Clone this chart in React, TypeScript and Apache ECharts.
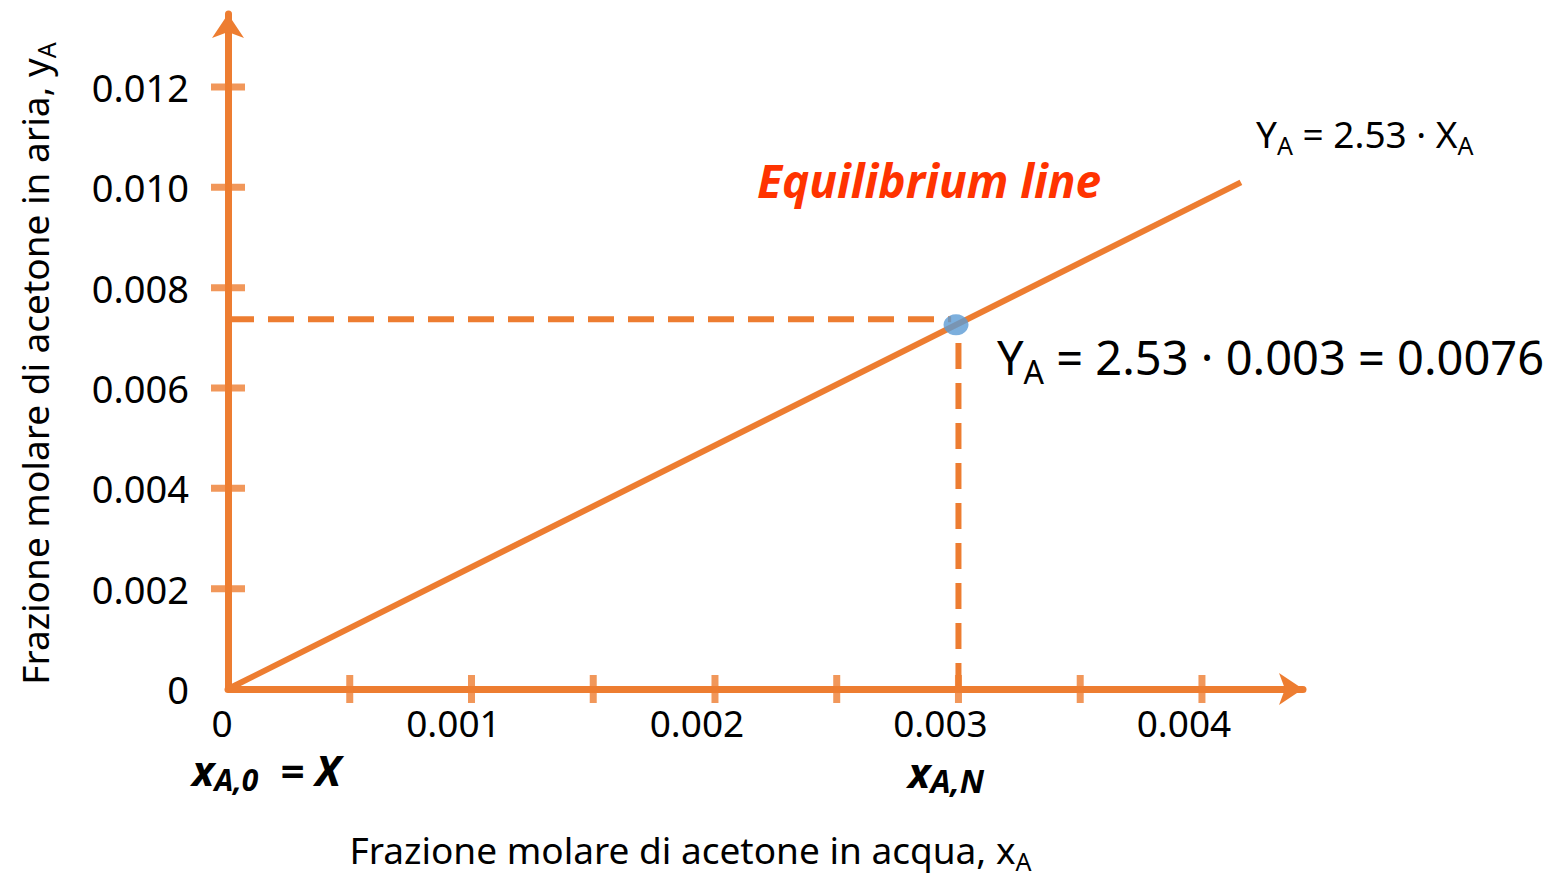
import React, { useEffect, useRef } from "react";
import * as echarts from "echarts";

const ORANGE = "#ED7D31";
const BLUE = "#5B9BD5";
const RED = "#FF3300";
const FONT = "Noto Sans";

// Axis extents (arrow ends) and label steps
const X_MAX = 0.004415;
const Y_MAX = 0.013455;
const X_LABEL_STEP = 0.001;
const Y_LABEL_STEP = 0.002;

// Tick marks crossing the axes
const xTickValues = [0.0005, 0.001, 0.0015, 0.002, 0.0025, 0.003, 0.0035, 0.004];
const yTickValues = [0.002, 0.004, 0.006, 0.008, 0.01, 0.012];

// Equilibrium line Y = 2.53 X (as drawn)
const eqLineX = [0, 0.00416];
const eqLineY = [0, 0.0101];

// Operating point
const pointX = 0.00299;
const pointY = 0.00726;

// Dashed guides
const hDashX = [0, 0.00297];
const hDashY = [0.00737, 0.00737];
const vDashX = [0.003, 0.003];
const vDashY = [0, 0.0071];

export default function App() {
  const ref = useRef<HTMLDivElement>(null);

  useEffect(() => {
    document.body.style.margin = "0";
    if (!ref.current) return;
    const chart = echarts.init(ref.current, undefined, { renderer: "svg" });

    const sub = (size: number, lh: number) => ({
      fontSize: size,
      fontFamily: FONT,
      color: "#000",
      lineHeight: lh,
      verticalAlign: "bottom" as const,
    });

    const option: any = {
      animation: false,
      backgroundColor: "#fff",
      grid: { left: 228, right: 246, top: 14, bottom: 191, containLabel: false },
      xAxis: {
        type: "value",
        min: 0,
        max: X_MAX,
        interval: X_LABEL_STEP,
        splitLine: { show: false },
        axisTick: { show: false },
        axisLine: {
          show: true,
          onZero: false,
          symbol: ["none", "arrow"],
          symbolSize: [24, 24],
          lineStyle: { color: ORANGE, width: 7 },
        },
        axisLabel: {
          showMaxLabel: false,
          margin: 14,
          formatter: (v: number) => (v === 0 ? "{z|0}" : "{l|" + v.toFixed(3) + "}"),
          rich: {
            z: { fontSize: 37, fontFamily: FONT, color: "#000", lineHeight: 38, padding: [0, 12, 0, 0] },
            l: { fontSize: 37, fontFamily: FONT, color: "#000", lineHeight: 38, padding: [0, 36, 0, 0] },
          },
        },
        name: "{a|Frazione molare di acetone in acqua, x}{s|A}",
        nameLocation: "middle",
        nameGap: 136,
        nameTextStyle: {
          padding: [0, 150, 0, 0],
          rich: {
            a: { fontSize: 37, fontFamily: FONT, color: "#000", lineHeight: 48 },
            s: sub(25, 26),
          },
        },
      },
      yAxis: {
        type: "value",
        min: 0,
        max: Y_MAX,
        interval: Y_LABEL_STEP,
        splitLine: { show: false },
        axisTick: { show: false },
        axisLine: {
          show: true,
          onZero: false,
          symbol: ["none", "arrow"],
          symbolSize: [24, 24],
          lineStyle: { color: ORANGE, width: 7 },
        },
        axisLabel: {
          showMaxLabel: false,
          margin: 39,
          fontSize: 38,
          fontFamily: FONT,
          color: "#000",
          formatter: (v: number) => (v === 0 ? "0" : v.toFixed(3)),
        },
        name: "{a|Frazione molare di acetone in aria, y}{s|A}",
        nameLocation: "middle",
        nameGap: 170,
        nameRotate: 90,
        nameTextStyle: {
          padding: [0, 24, 0, 0],
          rich: {
            a: { fontSize: 37, fontFamily: FONT, color: "#000", lineHeight: 48 },
            s: sub(25, 26),
          },
        },
      },
      series: [
        {
          type: "line",
          data: hDashX.map((x, i) => [x, hDashY[i]]),
          symbol: "none",
          lineStyle: { color: ORANGE, width: 6, type: [26, 14] },
          z: 2,
        },
        {
          type: "line",
          data: vDashX.map((x, i) => [x, vDashY[i]]),
          symbol: "none",
          lineStyle: { color: ORANGE, width: 6, type: [26, 14] },
          z: 2,
        },
        {
          type: "line",
          data: eqLineX.map((x, i) => [x, eqLineY[i]]),
          symbol: "none",
          lineStyle: { color: ORANGE, width: 6 },
          z: 3,
        },
        {
          type: "scatter",
          data: xTickValues.map((v) => [v, 0]),
          symbol: "rect",
          symbolSize: [7, 28],
          itemStyle: { color: ORANGE },
          z: 4,
        },
        {
          type: "scatter",
          data: yTickValues.map((v) => [0, v]),
          symbol: "rect",
          symbolSize: [34, 7],
          itemStyle: { color: ORANGE },
          z: 4,
        },
        {
          type: "scatter",
          data: [[pointX, pointY]],
          symbol: "circle",
          symbolSize: [25, 21],
          itemStyle: { color: BLUE },
          z: 5,
        },
      ],
      graphic: [
        {
          type: "text",
          left: 757,
          top: 157,
          style: {
            text: "Equilibrium line",
            fontSize: 46,
            fontWeight: "bold",
            fontStyle: "italic",
            fontFamily: FONT,
            fill: RED,
          },
        },
        {
          type: "text",
          left: 1256,
          top: 115,
          style: {
            text: "{a|Y}{s|A}{a| = 2.53 · X}{s|A}",
            rich: {
              a: { fontSize: 37, fontFamily: FONT, fill: "#000", lineHeight: 48 },
              s: { fontSize: 25, fontFamily: FONT, fill: "#000", lineHeight: 26, verticalAlign: "bottom" },
            },
          },
        },
        {
          type: "text",
          left: 997,
          top: 333,
          style: {
            text: "{a|Y}{s|A}{a| = 2.53 · 0.003 = 0.0076}",
            rich: {
              a: { fontSize: 47, fontFamily: FONT, fill: "#000", lineHeight: 62 },
              s: { fontSize: 32, fontFamily: FONT, fill: "#000", lineHeight: 33, verticalAlign: "bottom" },
            },
          },
        },
        {
          type: "text",
          left: 192,
          top: 748,
          style: {
            text: "{a|x}{s|A,0}{a|  = X}",
            rich: {
              a: { fontSize: 42, fontFamily: FONT, fontWeight: "bold", fontStyle: "italic", fill: "#000", lineHeight: 50 },
              s: { fontSize: 30, fontFamily: FONT, fontWeight: "bold", fontStyle: "italic", fill: "#000", lineHeight: 31, verticalAlign: "bottom" },
            },
          },
        },
        {
          type: "text",
          left: 908,
          top: 750,
          style: {
            text: "{a|x}{s|A,N}",
            rich: {
              a: { fontSize: 42, fontFamily: FONT, fontWeight: "bold", fontStyle: "italic", fill: "#000", lineHeight: 50 },
              s: { fontSize: 32, fontFamily: FONT, fontWeight: "bold", fontStyle: "italic", fill: "#000", lineHeight: 33, verticalAlign: "bottom" },
            },
          },
        },
      ],
    };

    chart.setOption(option);
    return () => chart.dispose();
  }, []);

  return <div ref={ref} style={{ width: 1549, height: 880 }} />;
}
